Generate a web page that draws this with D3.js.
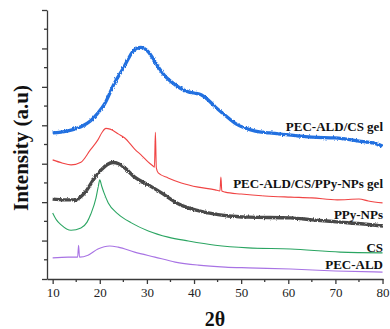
<!DOCTYPE html>
<html>
<head>
<meta charset="utf-8">
<script src="https://cdn.jsdelivr.net/npm/d3@7"></script>
<style>
  body { margin: 0; background: #fff; }
  svg { display: block; font-family: "Liberation Serif", "Times New Roman", serif; }
</style>
</head>
<body>
<div id="chart"></div>
<script>
// XRD patterns, [2theta, intensity (a.u., offset stacked)]
const pecAldCsGel = [
  [10, 380], [13, 385], [16, 396], [18, 411], [19.6, 432], [21, 455], [23, 507], [25, 549],
  [26, 572], [27, 592], [28, 601], [28.7, 603], [29.4, 600], [30.3, 591], [31.5, 570], [32.4, 552], [34, 526],
  [35.2, 513], [37, 497], [38.8, 487], [40, 484], [41.6, 479], [43, 466], [44.5, 448], [46, 432],
  [47.3, 419], [49, 403], [50.8, 393], [53, 385], [56, 380], [60, 375], [65, 369], [70, 367],
  [75, 359], [78, 354], [80, 346]
];
const pecAldCsPpyGel = [
  [10, 310], [12, 302], [13.9, 297], [16, 304], [18, 336], [19.6, 362], [20.5, 382], [21.3, 392],
  [22.2, 390], [24, 377], [25.3, 367], [27.4, 338], [29, 320], [30.3, 304], [31.3, 294], [31.6, 291],
  [31.8, 382], [32.0, 289], [32.4, 276], [34.5, 263], [37.3, 250], [40.9, 239], [44.5, 232],
  [45.5, 229], [45.7, 265], [45.9, 229], [46.6, 226], [50, 221], [55, 216], [60.5, 213], [65, 211],
  [70.4, 206], [75, 208], [77, 203], [80, 198]
];
const ppyNps = [
  [10, 208], [12.5, 206], [14.7, 206], [16.8, 224], [18.9, 263], [20.3, 284], [21.6, 298],
  [22.8, 303], [24, 300], [25.3, 289], [27.4, 265], [30.3, 245], [33.1, 224], [36, 200], [38.8, 185],
  [43, 172], [47.3, 164], [51.5, 161], [60.5, 159], [65, 154], [71, 148], [76, 143], [80, 138]
];
const cs = [
  [10, 172], [10.8, 154], [11.8, 141], [13.9, 127], [16, 133], [17.3, 148], [18.1, 169], [19.2, 211],
  [19.7, 242], [20, 258], [20.4, 242], [20.9, 224], [21.8, 198], [23.9, 169], [26.7, 146],
  [30.3, 125], [34.5, 109], [38.8, 99], [44.5, 88], [51.5, 81], [60.5, 78], [71, 70], [80, 68]
];
const pecAld = [
  [10, 55], [13.3, 57], [15.3, 57], [15.5, 88], [15.7, 57], [17.5, 62], [19.6, 78], [22.1, 86],
  [23.9, 83], [27.4, 70], [31.7, 57], [36, 44], [40.9, 36], [46.6, 31], [51.5, 29], [60.5, 26],
  [70, 21], [80, 18]
];

const seriesNames = ["PEC-ALD/CS gel", "PEC-ALD/CS/PPy-NPs gel", "PPy-NPs", "CS", "PEC-ALD"];
const seriesData = [pecAldCsGel, pecAldCsPpyGel, ppyNps, cs, pecAld];
const seriesColors = ["#2170e0", "#f04444", "#4a4a4a", "#2ba562", "#a873e4"];
const seriesWidths = [3.3, 1.1, 3.4, 1.1, 1.1];
const seriesNoise = ["noiseBig", "noiseSmall", "noiseBig", "noiseSmall", "noiseSmall"];
const labelY = [131, 188, 219, 252, 269];

const xTicks = [10, 20, 30, 40, 50, 60, 70, 80];
const xMinorTicks = [15, 25, 35, 45, 55, 65, 75];
const yTicks = [0, 100, 200, 300, 400, 500, 600, 700];
const yMinorTicks = [50, 150, 250, 350, 450, 550, 650];

const width = 390, height = 329;
const margin = { top: 10, right: 7, bottom: 50, left: 47 };

const svg = d3.select("#chart").append("svg")
  .attr("width", width)
  .attr("height", height);

// fuzzy look of the measured (noisy) patterns
const defs = svg.append("defs");
[["noiseBig", 2.8], ["noiseSmall", 1.4]].forEach(([id, s]) => {
  const f = defs.append("filter").attr("id", id)
    .attr("x", "-2%").attr("y", "-10%").attr("width", "104%").attr("height", "120%");
  f.append("feTurbulence").attr("type", "fractalNoise")
    .attr("baseFrequency", "1.1 0.35").attr("numOctaves", 2).attr("seed", 3).attr("result", "t");
  f.append("feDisplacementMap").attr("in", "SourceGraphic").attr("in2", "t")
    .attr("scale", s).attr("xChannelSelector", "R").attr("yChannelSelector", "G");
});

const x = d3.scaleLinear().domain([8.8, 80.1]).range([margin.left, width - margin.right]);
const y = d3.scaleLinear().domain([0, 700]).range([height - margin.bottom, margin.top]);

const axisColor = "#3a3a3a";

// x axis
const xAxis = svg.append("g")
  .attr("transform", `translate(0,${height - margin.bottom})`)
  .call(d3.axisBottom(x).tickValues(xTicks).tickSize(5).tickSizeOuter(0).tickPadding(4));
xAxis.selectAll(".tick text").attr("font-size", 13).attr("fill", "#222")
  .attr("font-family", "Liberation Serif, serif");
xAxis.append("g").selectAll("line").data(xMinorTicks).enter().append("line")
  .attr("x1", d => x(d)).attr("x2", d => x(d))
  .attr("y1", 0).attr("y2", 3);

// y axis
const yAxis = svg.append("g")
  .attr("transform", `translate(${margin.left},0)`)
  .call(d3.axisLeft(y).tickValues(yTicks).tickSize(5).tickSizeOuter(0).tickFormat(""));
yAxis.append("g").selectAll("line").data(yMinorTicks).enter().append("line")
  .attr("x1", 0).attr("x2", -3)
  .attr("y1", d => y(d)).attr("y2", d => y(d));

svg.selectAll(".domain, .tick line").attr("stroke", axisColor).attr("stroke-width", 1.3);
svg.selectAll("g g line").attr("stroke", axisColor).attr("stroke-width", 1.3);

// curves
const line = d3.line()
  .x(d => x(d[0]))
  .y(d => y(d[1]))
  .curve(d3.curveMonotoneX);

svg.append("g").selectAll("path")
  .data(seriesData)
  .enter()
  .append("path")
  .attr("d", line)
  .attr("fill", "none")
  .attr("stroke", (d, i) => seriesColors[i])
  .attr("stroke-width", (d, i) => seriesWidths[i])
  .attr("stroke-linejoin", "round")
  .attr("filter", (d, i) => `url(#${seriesNoise[i]})`);

// series labels
svg.append("g").selectAll("text")
  .data(seriesNames)
  .enter()
  .append("text")
  .attr("x", 383)
  .attr("y", (d, i) => labelY[i])
  .attr("text-anchor", "end")
  .attr("font-size", 13)
  .attr("font-weight", "bold")
  .attr("fill", "#111")
  .text(d => d);

// axis titles
svg.append("text")
  .attr("x", 215)
  .attr("y", 326)
  .attr("text-anchor", "middle")
  .attr("font-size", 20)
  .attr("font-weight", "bold")
  .attr("fill", "#111")
  .text("2θ");

svg.append("text")
  .attr("transform", "translate(28,148) rotate(-90)")
  .attr("text-anchor", "middle")
  .attr("font-size", 21)
  .attr("font-weight", "bold")
  .attr("fill", "#111")
  .text("Intensity (a.u)");
</script>
</body>
</html>
